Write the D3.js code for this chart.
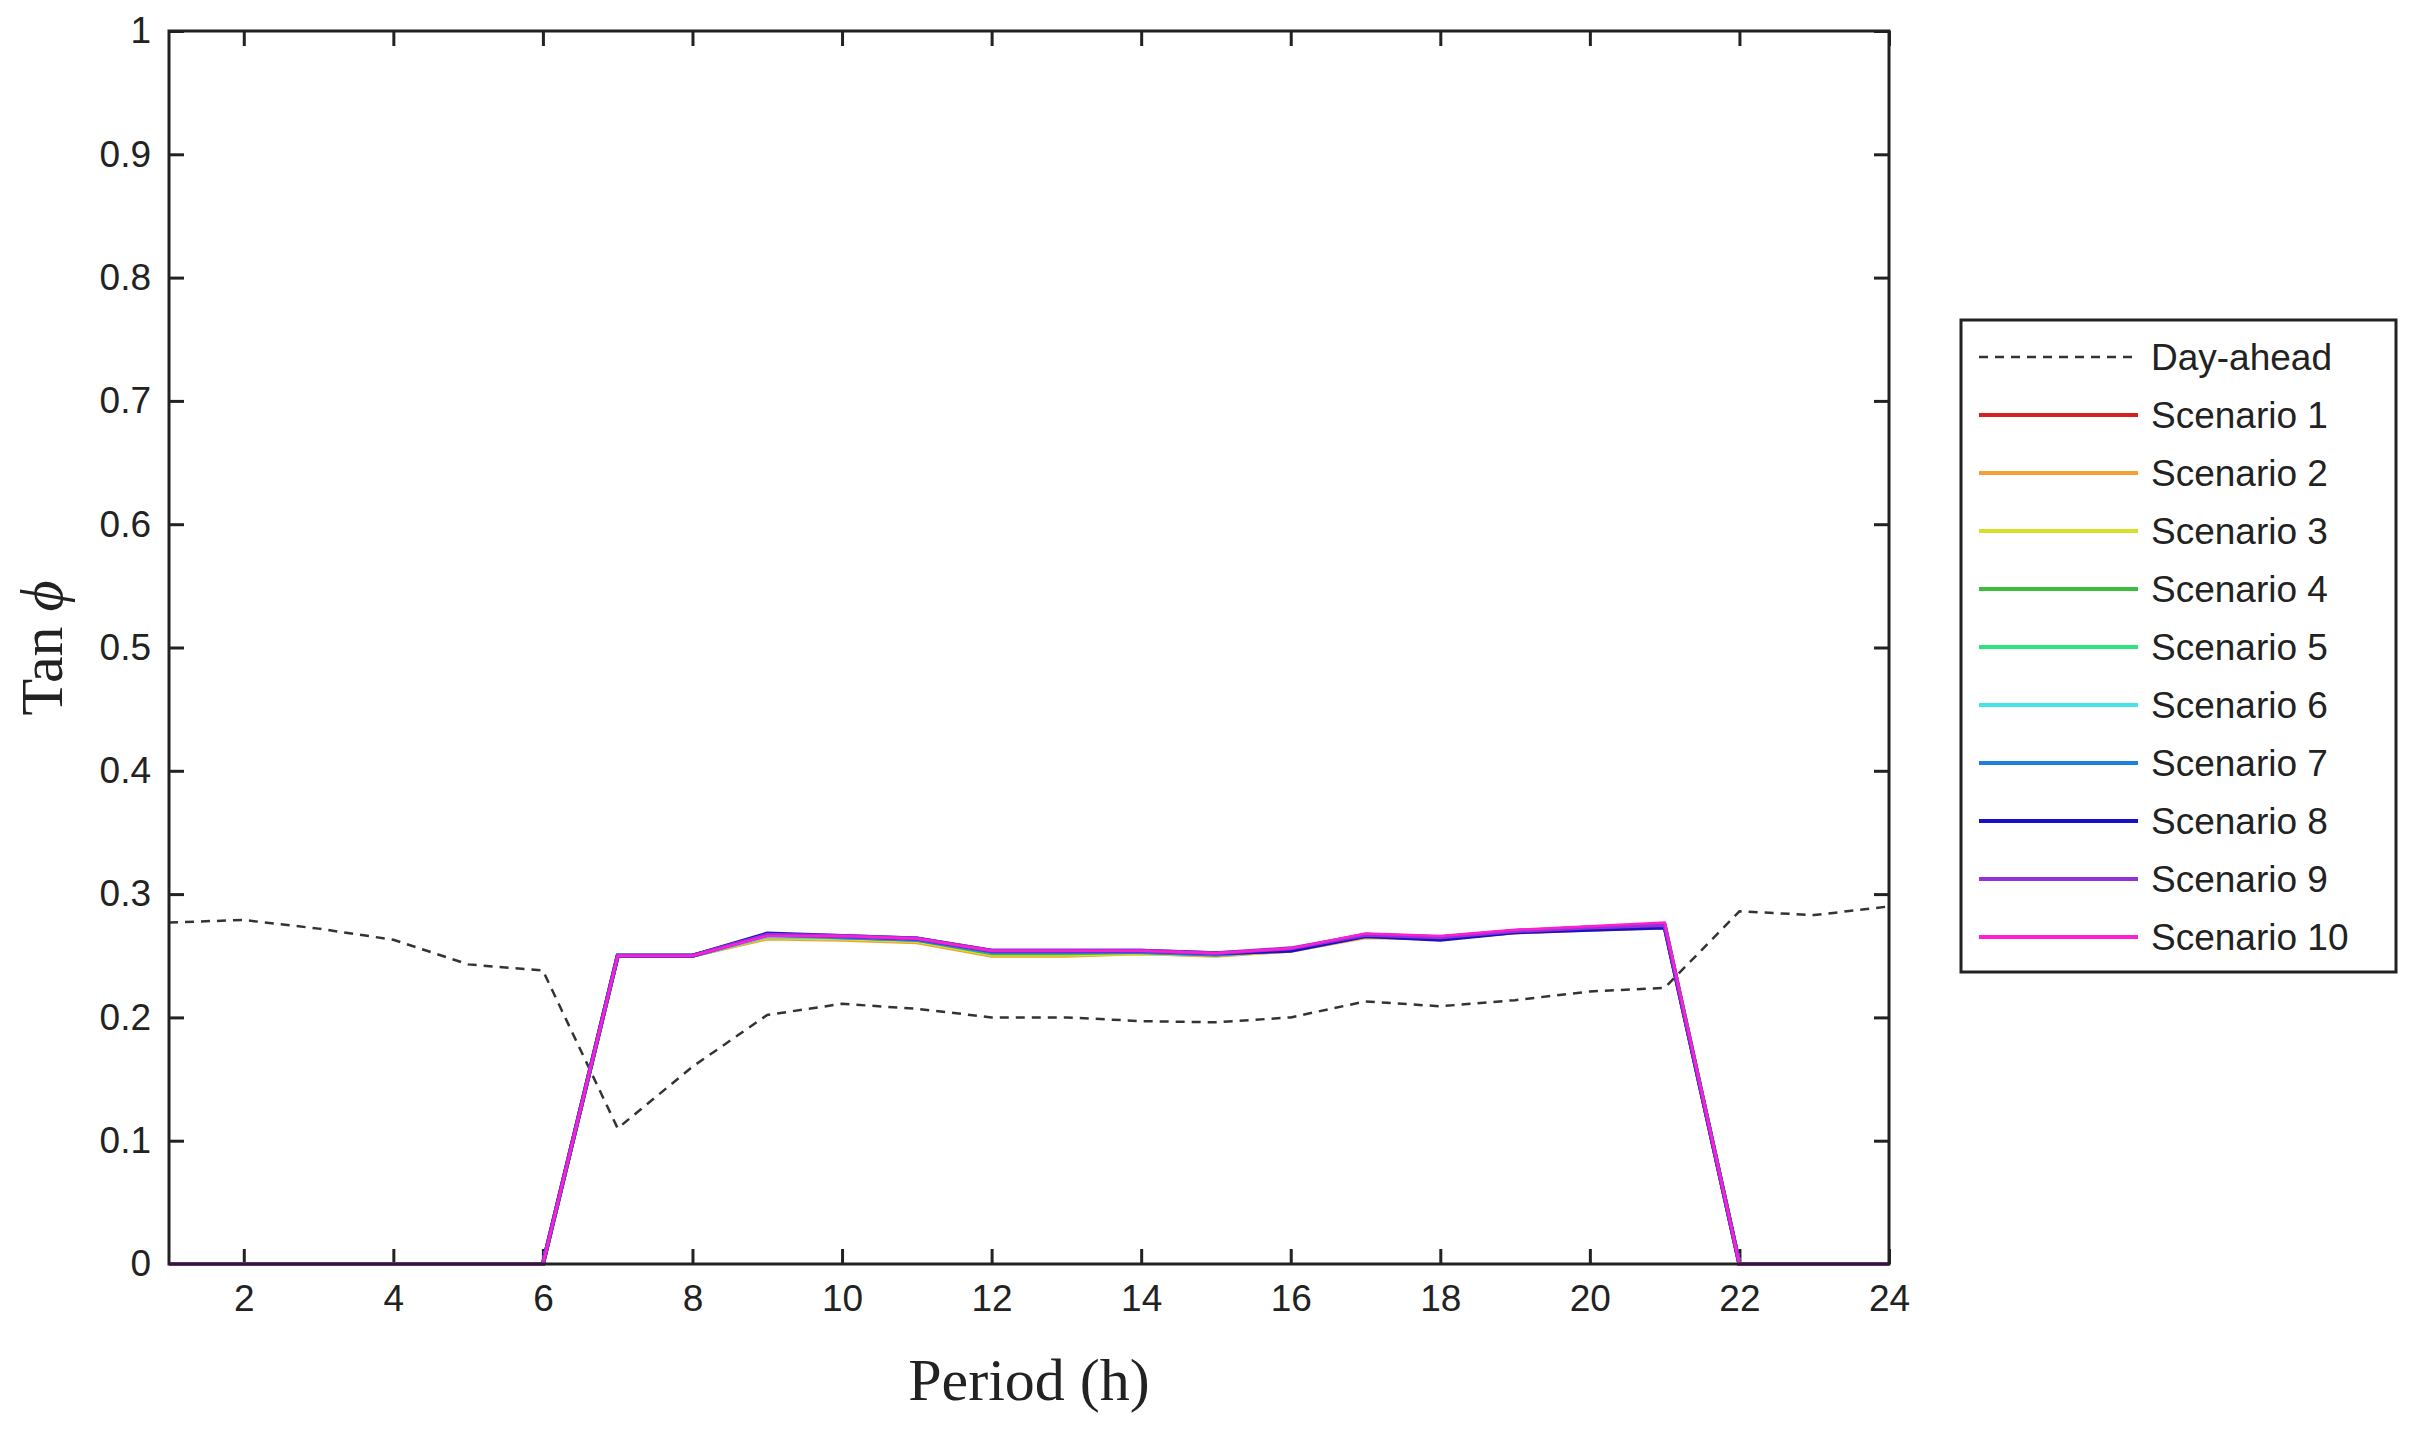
<!DOCTYPE html>
<html><head><meta charset="utf-8">
<script src="https://cdn.jsdelivr.net/npm/d3@7/dist/d3.min.js"></script>
<style>body{margin:0;background:#fff}</style></head>
<body><svg id="c" width="2412" height="1435"></svg>
<script>
const hours = d3.range(1, 25);
const dayAhead = [0.277,0.279,0.272,0.263,0.243,0.238,0.110,0.160,0.202,0.211,0.207,0.200,0.200,0.197,0.196,0.200,0.213,0.209,0.214,0.221,0.224,0.286,0.283,0.290];
const s1  = [0,0,0,0,0,0,0.250,0.250,0.265,0.265,0.263,0.252,0.252,0.253,0.251,0.255,0.266,0.264,0.269,0.272,0.274,0,0,0];
const s2  = [0,0,0,0,0,0,0.250,0.250,0.264,0.263,0.261,0.250,0.250,0.252,0.250,0.254,0.265,0.264,0.269,0.271,0.273,0,0,0];
const s3  = [0,0,0,0,0,0,0.250,0.250,0.265,0.264,0.262,0.251,0.251,0.252,0.251,0.254,0.266,0.265,0.269,0.272,0.274,0,0,0];
const s4  = [0,0,0,0,0,0,0.250,0.250,0.266,0.265,0.263,0.252,0.252,0.253,0.251,0.255,0.266,0.264,0.270,0.272,0.274,0,0,0];
const s5  = [0,0,0,0,0,0,0.250,0.250,0.266,0.265,0.263,0.253,0.253,0.253,0.251,0.255,0.267,0.265,0.270,0.273,0.275,0,0,0];
const s6  = [0,0,0,0,0,0,0.250,0.250,0.266,0.265,0.264,0.253,0.253,0.253,0.252,0.255,0.267,0.265,0.270,0.273,0.275,0,0,0];
const s7  = [0,0,0,0,0,0,0.250,0.250,0.267,0.265,0.263,0.253,0.253,0.253,0.251,0.255,0.266,0.264,0.270,0.272,0.274,0,0,0];
const s8  = [0,0,0,0,0,0,0.250,0.250,0.268,0.266,0.264,0.254,0.254,0.254,0.252,0.254,0.266,0.263,0.269,0.271,0.273,0,0,0];
const s9  = [0,0,0,0,0,0,0.250,0.250,0.267,0.266,0.264,0.254,0.254,0.254,0.252,0.256,0.267,0.265,0.270,0.273,0.275,0,0,0];
const s10 = [0,0,0,0,0,0,0.250,0.250,0.266,0.266,0.264,0.254,0.254,0.254,0.252,0.256,0.268,0.266,0.271,0.274,0.277,0,0,0];
const scenarios = [s1,s2,s3,s4,s5,s6,s7,s8,s9,s10];
const scenarioNames = d3.range(1,11).map(i => "Scenario " + i);
const colors = ["#d42020","#f4a033","#d6e028","#3cbc3c","#2ee37e","#44e3ea","#1f7fe0","#1a10c8","#9332d6","#ff1ed2"];
const xTicks = d3.range(2, 25, 2);
const yTicks = d3.range(0, 1.01, 0.1);

const svg = d3.select("#c");
const L=169,R=1889,T=31,B=1264;
const x = d3.scaleLinear().domain([1,24]).range([L,R]);
const y = d3.scaleLinear().domain([0,1]).range([B,T]);
const line = d3.line().x((d,i)=>x(hours[i])).y(d=>y(d));

const tf = "Liberation Sans, Arial, sans-serif";
const fmtY = d => d===0?"0":d===1?"1":d3.format(".1f")(d);
// bottom axis
const bx = svg.append("g").attr("transform",`translate(0,${B})`).call(d3.axisBottom(x).tickValues(xTicks).tickSizeInner(-15).tickSizeOuter(0).tickPadding(34));
const ly = svg.append("g").attr("transform",`translate(${L},0)`).call(d3.axisLeft(y).tickValues(yTicks).tickFormat(fmtY).tickSizeInner(-15).tickSizeOuter(0).tickPadding(18));
const tx = svg.append("g").attr("transform",`translate(0,${T})`).call(d3.axisTop(x).tickValues(xTicks).tickFormat("").tickSizeInner(-15).tickSizeOuter(0));
const ry = svg.append("g").attr("transform",`translate(${R},0)`).call(d3.axisRight(y).tickValues(yTicks).tickFormat("").tickSizeInner(-15).tickSizeOuter(0));
[bx,ly,tx,ry].forEach(g=>{g.selectAll("path").remove();g.selectAll("line").attr("stroke","#222").attr("stroke-width",3);
  g.selectAll("text").attr("font-family",tf).attr("font-size",37).attr("fill","#222");});
bx.selectAll("text").attr("dy","0.35em");

// lines
svg.append("path").datum(dayAhead).attr("d",line).attr("fill","none").attr("stroke","#333").attr("stroke-width",2.5).attr("stroke-dasharray","9,7");
scenarios.forEach((s,i)=>svg.append("path").datum(s).attr("d",line).attr("fill","none").attr("stroke",colors[i]).attr("stroke-width",i===9?2.5:4));

svg.append("rect").attr("x",L).attr("y",T).attr("width",R-L).attr("height",B-T).attr("fill","none").attr("stroke","#222").attr("stroke-width",3);

// axis labels
svg.append("text").attr("x",(L+R)/2).attr("y",1400).attr("text-anchor","middle").attr("font-family","Liberation Serif, Times New Roman, serif").attr("font-size",60).attr("fill","#222").text("Period (h)");
svg.append("text").attr("transform","translate(62,648) rotate(-90)").attr("text-anchor","middle").attr("font-family","Liberation Serif, Times New Roman, serif").attr("font-size",60).attr("fill","#222")
  .html('Tan <tspan font-style="italic">ϕ</tspan>');

// legend
const lg = svg.append("g");
lg.append("rect").attr("x",1961).attr("y",320).attr("width",435).attr("height",652).attr("fill","#fff").attr("stroke","#222").attr("stroke-width",3);
const items = [{name:"Day-ahead",color:"#333",dash:"9,7",w:2.5}].concat(scenarioNames.map((n,i)=>({name:n,color:colors[i],dash:null,w:4})));
items.forEach((it,i)=>{
  const yy = 357 + i*58;
  lg.append("line").attr("x1",1979).attr("x2",2138).attr("y1",yy).attr("y2",yy).attr("stroke",it.color).attr("stroke-width",it.w).attr("stroke-dasharray",it.dash);
  lg.append("text").attr("x",2151).attr("y",yy).attr("dy","0.35em").attr("font-family",tf).attr("font-size",37).attr("fill","#222").text(it.name);
});
</script></body></html>
